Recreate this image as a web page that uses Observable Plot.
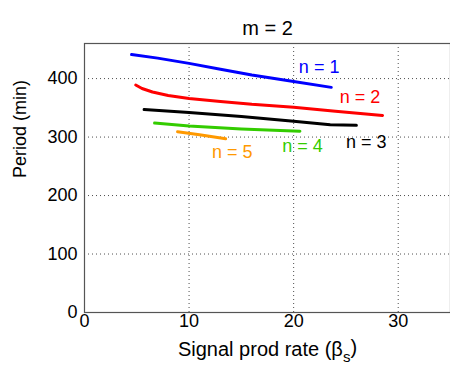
<!DOCTYPE html>
<html>
<head>
<meta charset="utf-8">
<script src="https://cdn.jsdelivr.net/npm/d3@7"></script>
<script src="https://cdn.jsdelivr.net/npm/@observablehq/plot@0.6"></script>
<style>
  body { margin: 0; background: #fff; }
</style>
</head>
<body>
<div id="chart"></div>
<script>
const title = "m = 2";
const xLabel = "Signal prod rate (βs)";
const yLabel = "Period (min)";
const xTicks = [0, 10, 20, 30];
const yTicks = [0, 100, 200, 300, 400];

const seriesNames = ["n = 1", "n = 2", "n = 3", "n = 4", "n = 5"];
const seriesColors = ["#0000ff", "#ff0000", "#000000", "#33cc00", "#ff9900"];

const n1Beta = [4.5, 7, 10, 13, 16, 20, 23.6];
const n1Period = [441, 435, 426, 416, 406, 395, 385];
const n2Beta = [4.9, 5.5, 6.5, 8, 10, 13, 16, 20, 24, 28.5];
const n2Period = [389, 383, 377, 371, 366, 361, 356, 351, 344, 337];
const n3Beta = [5.7, 10, 15, 20, 23.5, 26];
const n3Period = [347, 342, 335, 327, 321, 320];
const n4Beta = [6.7, 10, 15, 20.6];
const n4Period = [324, 319, 314, 310];
const n5Beta = [8.9, 11, 13.5];
const n5Period = [309, 304, 297];

const labelBeta = [20.5, 24.4, 25.0, 18.9, 12.2];
const labelPeriod = [419, 368, 291, 285, 274];

const betas = [n1Beta, n2Beta, n3Beta, n4Beta, n5Beta];
const periods = [n1Period, n2Period, n3Period, n4Period, n5Period];
const lineData = [];
betas.forEach((bs, i) => bs.forEach((b, j) => lineData.push({series: seriesNames[i], beta: b, period: periods[i][j]})));
const labelData = seriesNames.map((s, i) => ({series: s, beta: labelBeta[i], period: labelPeriod[i]}));

const font = "'Liberation Sans', Arial, sans-serif";
const chart = Plot.plot({
  width: 450,
  height: 375,
  marginLeft: 84,
  marginRight: 0,
  marginTop: 43,
  marginBottom: 63,
  style: {fontFamily: font, fontSize: "18px", background: "#fff", color: "#000"},
  x: {domain: [0, 35]},
  y: {domain: [0, 460]},
  color: {domain: seriesNames, range: seriesColors},
  marks: [
    Plot.gridX(xTicks.filter(d => d > 0), {stroke: "#222", strokeOpacity: 0.8, strokeDasharray: "1,3"}),
    Plot.gridY(yTicks.filter(d => d > 0), {stroke: "#222", strokeOpacity: 0.8, strokeDasharray: "1,3"}),
    Plot.frame({stroke: "#555", strokeWidth: 1.2}),
    Plot.axisX({ticks: xTicks, tickSize: 0, tickPadding: 2, label: null, fontSize: 18}),
    Plot.axisY({ticks: yTicks, tickSize: 0, tickPadding: 7, label: null, fontSize: 18}),
    Plot.line(lineData, {x: "beta", y: "period", z: "series", stroke: "series", strokeWidth: 3}),
    Plot.text(labelData, {x: "beta", y: "period", text: "series", fill: "series", textAnchor: "start", fontSize: 18}),
    Plot.text([title], {frameAnchor: "top", dy: -23, fontSize: 20, fill: "#000"}),
    Plot.text([xLabel], {frameAnchor: "bottom", dy: 43, fontSize: 20, fill: "#000", className: "xlab"}),
    Plot.text([yLabel], {frameAnchor: "left", dx: -64, rotate: -90, fontSize: 18, fill: "#000"})
  ]
});
document.getElementById("chart").appendChild(chart);

// subscript "s" in the x axis label
d3.select(chart).selectAll("text").each(function() {
  const t = d3.select(this);
  if (t.text() === xLabel) {
    t.text(null);
    t.append("tspan").text("Signal prod rate (β");
    t.append("tspan").attr("dy", "0.4em").attr("font-size", "15px").text("s");
    t.append("tspan").attr("dy", "-0.4em").text(")");
  }
});
</script>
</body>
</html>
